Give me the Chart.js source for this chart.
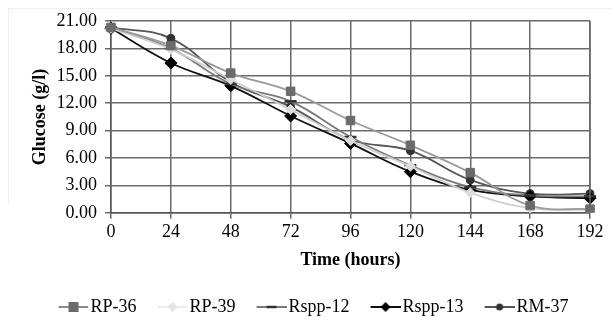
<!DOCTYPE html>
<html>
<head>
<meta charset="utf-8">
<script src="https://cdn.jsdelivr.net/npm/chart.js@4"></script>
<style>
  html, body { margin: 0; padding: 0; background: #fff; }
  #wrap { position: relative; width: 615px; height: 322px; }
  #frame { position: absolute; left: 8px; top: 8px; width: 602px; height: 195px;
           border-top: 1px dotted #e2e2e2; border-left: 1px dotted #e2e2e2; }
</style>
</head>
<body>
<div id="wrap">
  <div id="frame"></div>
  <canvas id="chart" width="615" height="322"></canvas>
</div>
<script>
// time points (hours)
const hours = [0, 24, 48, 72, 96, 120, 144, 168, 192];

// glucose (g/l) per strain
const rp36   = [20.3, 18.3, 15.3, 13.3, 10.1, 7.4, 4.4, 0.8, 0.4];
const rp39   = [20.2, 17.9, 14.6, 11.3, 7.9, 5.1, 2.2, 0.5, 0.3];
const rspp12 = [20.3, 18.0, 14.1, 12.2, 8.3, 5.2, 2.8, 1.9, 1.8];
const rspp13 = [20.2, 16.4, 13.9, 10.6, 7.6, 4.5, 2.5, 1.8, 1.6];
const rm37   = [20.3, 19.1, 14.3, 11.6, 8.0, 6.8, 3.6, 2.1, 2.1];

const yTicks = [0, 3, 6, 9, 12, 15, 18, 21];

const FONT = '"Liberation Serif", "DejaVu Serif", serif';

// small line+marker icon for the legend (line sits in the right 30px)
function legendIcon(lineColor, draw) {
  const c = document.createElement('canvas');
  c.width = 48; c.height = 14;
  const g = c.getContext('2d');
  g.translate(18, 0);
  g.strokeStyle = lineColor;
  g.lineWidth = 2;
  g.beginPath(); g.moveTo(0, 7); g.lineTo(30, 7); g.stroke();
  draw(g);
  return c;
}

const icons = [
  legendIcon('#8a8a8a', g => { g.fillStyle = '#6b6b6b'; g.fillRect(10, 2, 10, 10); }),
  legendIcon('#ededed', g => {
    g.fillStyle = '#e4e4e4';
    g.beginPath(); g.moveTo(15, 2); g.lineTo(20, 7); g.lineTo(15, 12); g.lineTo(10, 7); g.closePath(); g.fill();
  }),
  legendIcon('#7a7a7a', g => { g.strokeStyle = '#333'; g.lineWidth = 2.5; g.beginPath(); g.moveTo(10, 7); g.lineTo(20, 7); g.stroke(); }),
  legendIcon('#111', g => {
    g.fillStyle = '#000';
    g.beginPath(); g.moveTo(15, 2); g.lineTo(20, 7); g.lineTo(15, 12); g.lineTo(10, 7); g.closePath(); g.fill();
  }),
  legendIcon('#555', g => { g.fillStyle = '#333'; g.beginPath(); g.arc(15, 7, 3.5, 0, Math.PI * 2); g.fill(); })
];

function series(label, data, line, point, style, radius) {
  return {
    label, data,
    borderColor: line,
    backgroundColor: point,
    pointBackgroundColor: point,
    pointBorderColor: point,
    pointStyle: style,
    pointRadius: radius,
    pointBorderWidth: style === 'line' ? 2.5 : 1,
    borderWidth: 1.8,
    tension: 0.4
  };
}

new Chart(document.getElementById('chart'), {
  type: 'line',
  data: {
    labels: hours,
    datasets: [
      series('RP-36', rp36, '#9a9a9a', '#6b6b6b', 'rect', 6),
      series('RP-39', rp39, '#cfcfcf', '#dcdcdc', 'rectRot', 5),
      series('Rspp-12', rspp12, '#7a7a7a', '#333', 'line', 6),
      series('Rspp-13', rspp13, '#111', '#000', 'rectRot', 6),
      series('RM-37', rm37, '#555', '#333', 'circle', 4)
    ]
  },
  options: {
    responsive: false,
    animation: false,
    layout: { padding: { top: 21, right: 25, left: 0, bottom: 2 } },
    plugins: {
      tooltip: { enabled: false },
      legend: {
        position: 'bottom',
        labels: {
          usePointStyle: true,
          pointStyleWidth: 34,
          boxHeight: 14,
          padding: 10,
          color: '#000',
          font: { family: FONT, size: 18 },
          generateLabels(chart) {
            const items = Chart.defaults.plugins.legend.labels.generateLabels(chart);
            items.forEach(it => { it.pointStyle = icons[it.datasetIndex]; });
            return items;
          }
        }
      }
    },
    scales: {
      x: {
        grid: { color: '#6a6a6a', lineWidth: 1.5, tickLength: 6 },
        border: { color: '#555', width: 1.5 },
        ticks: { color: '#000', font: { family: FONT, size: 18 }, padding: 3, maxRotation: 0, autoSkip: false },
        title: {
          display: true, text: 'Time (hours)', color: '#000',
          font: { family: FONT, size: 18, weight: 'bold' },
          padding: { top: 3, bottom: 11 }
        }
      },
      y: {
        min: 0, max: 21,
        afterBuildTicks(scale) { scale.ticks = yTicks.map(v => ({ value: v })); },
        afterFit(scale) { scale.width = 111; },
        grid: { color: '#6a6a6a', lineWidth: 1.5, tickLength: 6 },
        border: { color: '#555', width: 1.5 },
        ticks: {
          color: '#000', font: { family: FONT, size: 18 }, padding: 8, autoSkip: false,
          callback: v => v.toFixed(2)
        },
        title: {
          display: true, text: 'Glucose (g/l)', color: '#000',
          font: { family: FONT, size: 18, weight: 'bold' },
          padding: { top: 30, bottom: 0 }
        }
      }
    }
  },
  plugins: [{
    id: 'legendShift',
    afterLayout(chart) {
      const lg = chart.legend;
      lg.left += 13; lg.right += 13;
      lg.top += 6; lg.bottom += 6;
    }
  }, {
    id: 'rightEdge',
    afterDraw(chart) {
      const a = chart.chartArea, g = chart.ctx;
      g.save();
      g.strokeStyle = '#6a6a6a'; g.lineWidth = 1.5;
      g.beginPath(); g.moveTo(a.right, a.top); g.lineTo(a.right, a.bottom); g.stroke();
      g.restore();
    }
  }]
});
</script>
</body>
</html>
